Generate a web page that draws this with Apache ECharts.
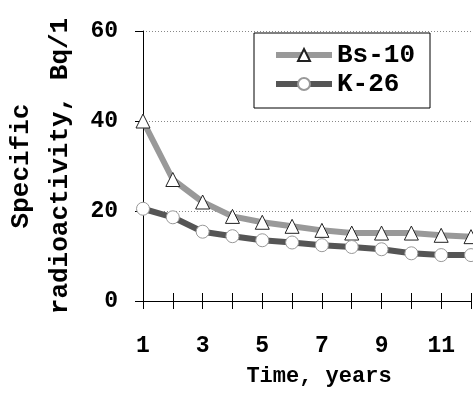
<!DOCTYPE html>
<html><head><meta charset="utf-8">
<script src="https://cdn.jsdelivr.net/npm/echarts@6/dist/echarts.min.js"></script>
<style>html,body{margin:0;padding:0;background:#fff}#c{width:473px;height:402px}</style>
</head><body><div id="c"></div>
<script>
const years = ['1','2','3','4','5','6','7','8','9','10','11','12'];
const bs10 = [40.0, 27.0, 22.0, 18.8, 17.5, 16.6, 15.7, 15.1, 15.1, 15.1, 14.6, 14.3];
const k26 = [20.5, 18.6, 15.4, 14.4, 13.5, 13.0, 12.4, 12.0, 11.5, 10.6, 10.2, 10.2];
const yTicks = [0, 20, 40, 60];
const FONT = '"Liberation Mono", "Courier New", monospace';
const chart = echarts.init(document.getElementById('c'), null, {renderer: 'canvas'});
chart.setOption({
  animation: false,
  backgroundColor: '#fff',
  grid: {left: 143, top: 31, right: 2, bottom: 101, containLabel: false, outerBoundsMode: 'none'},
  legend: {
    left: 254, top: 33, orient: 'vertical',
    backgroundColor: '#fff', borderColor: '#000', borderWidth: 1,
    padding: [9, 15, 11, 19], itemGap: 3, itemWidth: 56, itemHeight: 15,
    lineStyle: {width: 6},
    textStyle: {fontFamily: FONT, fontWeight: 'bold', fontSize: 26, lineHeight: 20, color: '#000'},
    data: ['Bs-10', 'K-26']
  },
  xAxis: [{
    type: 'category', data: years, boundaryGap: false,
    name: 'Time, years', nameLocation: 'middle', nameGap: 64,
    nameTextStyle: {fontFamily: FONT, fontWeight: 'bold', fontSize: 22, color: '#000', padding: [0, 0, 0, 24]},
    axisLine: {lineStyle: {color: '#000', width: 1}},
    axisTick: {show: true, interval: 0, length: 8, lineStyle: {color: '#000'}},
    axisLabel: {interval: 1, margin: 34, fontFamily: FONT, fontWeight: 'bold', fontSize: 23, color: '#000'},
    splitLine: {show: false}
  }, {
    type: 'category', data: years, boundaryGap: false, position: 'bottom',
    axisLine: {show: false},
    axisTick: {show: true, inside: true, interval: 0, length: 8, lineStyle: {color: '#000'}},
    axisLabel: {show: false}, splitLine: {show: false}
  }],
  yAxis: {
    type: 'value', min: yTicks[0], max: yTicks[yTicks.length - 1], interval: 20,
    name: 'Specific\nradioactivity, Bq/1', nameLocation: 'middle', nameRotate: 90, nameGap: 63,
    nameTextStyle: {fontFamily: FONT, fontWeight: 'bold', fontSize: 26, lineHeight: 39, color: '#000'},
    axisLine: {show: true, lineStyle: {color: '#000', width: 1}},
    axisTick: {show: true, length: 8, lineStyle: {color: '#000'}},
    axisLabel: {margin: 25, fontFamily: FONT, fontWeight: 'bold', fontSize: 23, color: '#000'},
    splitLine: {show: true, lineStyle: {color: '#888', type: [1, 2], width: 1}}
  },
  series: [{
    name: 'Bs-10', type: 'line', data: bs10,
    symbol: 'triangle', symbolSize: [14, 14], showAllSymbol: true,
    lineStyle: {color: '#999', width: 6},
    itemStyle: {color: '#fff', borderColor: '#222', borderWidth: 1},
    z: 3
  }, {
    name: 'K-26', type: 'line', data: k26,
    symbol: 'circle', symbolSize: 13, showAllSymbol: true,
    lineStyle: {color: '#555', width: 6},
    itemStyle: {color: '#fff', borderColor: '#999', borderWidth: 1},
    z: 4
  }]
});
</script></body></html>
